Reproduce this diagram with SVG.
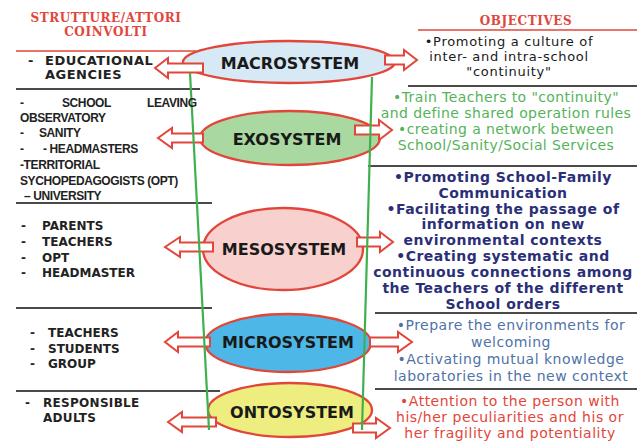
<svg xmlns="http://www.w3.org/2000/svg" width="637" height="444" viewBox="0 0 637 444">
<style>
.ell{stroke:#e2463b;stroke-width:2.3}
.lbl{font-family:"DejaVu Sans",Verdana,sans-serif;font-weight:bold;font-size:16px;fill:#1a1a1a;text-anchor:middle}
.arr{fill:#fff;stroke:#e2463b;stroke-width:2;stroke-linejoin:miter}
.gl{stroke:#3fb04f;stroke-width:2.2;fill:none}
.hd{stroke:#4a4a4a;stroke-width:2}
.hr{stroke:#e2463b;stroke-width:1.5}
.head{font-family:"DejaVu Serif","Liberation Serif",serif;font-weight:bold;font-size:12px;letter-spacing:0.6px;fill:#e2463b;text-anchor:middle}
.lt{font-family:"DejaVu Sans",Verdana,sans-serif;font-weight:bold;font-size:12px;fill:#222}
.ln{font-family:"Liberation Sans",Arial,sans-serif;font-weight:bold;font-size:12px;fill:#222;letter-spacing:-0.4px}
.rt{font-family:"DejaVu Sans",Verdana,sans-serif;font-size:14px;text-anchor:middle}
.rb{font-family:"DejaVu Sans",Verdana,sans-serif;font-weight:bold;font-size:14px;letter-spacing:0.5px;text-anchor:middle;fill:#2b2f78}
</style>
<rect width="637" height="444" fill="#fff"/>

<!-- headers and separators -->
<g id="headers">
<text class="head" x="106" y="22">STRUTTURE/ATTORI</text>
<text class="head" x="106" y="36">COINVOLTI</text>
<text class="head" x="526" y="25">OBJECTIVES</text>
<line class="hr" x1="16" y1="51" x2="196" y2="51"/>
<line class="hr" x1="418" y1="30" x2="637" y2="30"/>
<line class="hd" x1="16" y1="89" x2="200" y2="89"/>
<line class="hd" x1="16" y1="203" x2="212" y2="203"/>
<line class="hd" x1="16" y1="308" x2="212" y2="308"/>
<line class="hd" x1="16" y1="391" x2="220" y2="391"/>
<line class="hd" x1="408" y1="86" x2="637" y2="86"/>
<line class="hd" x1="368" y1="166" x2="637" y2="166"/>
<line class="hd" x1="375" y1="389" x2="637" y2="389"/>
</g>

<!-- nodes -->
<g id="macrosystem">
<ellipse class="ell" cx="289" cy="62" rx="106" ry="21" fill="#d6e9f4"/>
<text class="lbl" x="290" y="69">MACROSYSTEM</text>
</g>
<g id="exosystem">
<ellipse class="ell" cx="290" cy="138" rx="90" ry="27" fill="#a9d9a0"/>
<text class="lbl" x="287" y="145">EXOSYSTEM</text>
</g>
<g id="mesosystem">
<ellipse class="ell" cx="283" cy="249" rx="80" ry="41" fill="#f8d0ce"/>
<text class="lbl" x="284" y="255">MESOSYSTEM</text>
</g>
<g id="microsystem">
<ellipse class="ell" cx="288" cy="343" rx="83" ry="29" fill="#4db7e7"/>
<text class="lbl" x="288" y="348">MICROSYSTEM</text>
</g>
<g id="ontosystem">
<ellipse class="ell" cx="290" cy="410" rx="82" ry="27" fill="#eeee80"/>
<text class="lbl" x="292" y="418">ONTOSYSTEM</text>
</g>

<!-- connectors -->
<g id="connectors">
<path class="arr" d="M155,68 L168,58 L168,63.5 L203,63.5 L203,72.5 L168,72.5 L168,78 Z"/>
<path class="arr" d="M385,55.5 L404,55.5 L404,50 L417,60 L404,70 L404,64.5 L385,64.5 Z"/>
<path class="arr" d="M158,138 L172,128 L172,133.5 L203,133.5 L203,142.5 L172,142.5 L172,148 Z"/>
<path class="arr" d="M355,125.5 L379,125.5 L379,120 L392,130 L379,140 L379,134.5 L355,134.5 Z"/>
<path class="arr" d="M165,247 L180,237 L180,242.5 L213,242.5 L213,251.5 L180,251.5 L180,257 Z"/>
<path class="arr" d="M357,237.5 L380,237.5 L380,232 L393,242 L380,252 L380,246.5 L357,246.5 Z"/>
<path class="arr" d="M165,342 L178,332 L178,337.5 L210,337.5 L210,346.5 L178,346.5 L178,352 Z"/>
<path class="arr" d="M370,337.5 L398,337.5 L398,332 L412,342 L398,352 L398,346.5 L370,346.5 Z"/>
<path class="arr" d="M168,422 L182,412 L182,417.5 L216,417.5 L216,426.5 L182,426.5 L182,432 Z"/>
<path class="arr" d="M353,423.5 L376,423.5 L376,418 L390,428 L376,438 L376,432.5 L353,432.5 Z"/>
<line class="gl" x1="190" y1="73" x2="209" y2="430"/>
<line class="gl" x1="372" y1="77" x2="362" y2="430"/>
</g>

<!-- left texts -->
<g id="actors-macro">
<text class="lt" x="28" y="65" style="font-size:13px">-</text>
<text class="lt" x="45" y="65" style="font-size:13px;letter-spacing:0.5px">EDUCATIONAL</text>
<text class="lt" x="45" y="79" style="font-size:13px;letter-spacing:0.5px">AGENCIES</text>
</g>
<g id="actors-exo">
<text class="ln" x="20" y="107">-</text>
<text class="ln" x="62" y="107">SCHOOL</text>
<text class="ln" x="147" y="107">LEAVING</text>
<text class="ln" x="20" y="122">OBSERVATORY</text>
<text class="ln" x="20" y="137">-</text>
<text class="ln" x="39" y="137">SANITY</text>
<text class="ln" x="20" y="153">-</text>
<text class="ln" x="43" y="153">- HEADMASTERS</text>
<text class="ln" x="20" y="169">-TERRITORIAL</text>
<text class="ln" x="20" y="185">SYCHOPEDAGOGISTS (OPT)</text>
<text class="ln" x="24" y="200">– UNIVERSITY</text>
</g>
<g id="actors-meso">
<text class="lt" x="21" y="230">-</text><text class="lt" x="42" y="230">PARENTS</text>
<text class="lt" x="21" y="246">-</text><text class="lt" x="42" y="246">TEACHERS</text>
<text class="lt" x="21" y="262">-</text><text class="lt" x="42" y="262">OPT</text>
<text class="lt" x="21" y="277">-</text><text class="lt" x="42" y="277">HEADMASTER</text>
</g>
<g id="actors-micro">
<text class="lt" x="30" y="337">-</text><text class="lt" x="48" y="337">TEACHERS</text>
<text class="lt" x="30" y="353">-</text><text class="lt" x="48" y="353">STUDENTS</text>
<text class="lt" x="30" y="368">-</text><text class="lt" x="48" y="368">GROUP</text>
</g>
<g id="actors-onto">
<text class="lt" x="25" y="407">-</text><text class="lt" x="43" y="407" style="letter-spacing:0.3px">RESPONSIBLE</text>
<text class="lt" x="43" y="422" style="letter-spacing:0.3px">ADULTS</text>
</g>

<!-- right texts -->
<g id="obj-macro" fill="#1a1a1a" style="letter-spacing:0.7px">
<text class="rt" x="509" y="46" style="font-size:13px">•Promoting a culture of</text>
<text class="rt" x="509" y="61" style="font-size:13px">inter- and intra-school</text>
<text class="rt" x="509" y="76" style="font-size:13px">"continuity"</text>
</g>
<g id="obj-exo" fill="#55b35a" style="letter-spacing:0.4px">
<text class="rt" x="506" y="102">•Train Teachers to "continuity"</text>
<text class="rt" x="506" y="118">and define shared operation rules</text>
<text class="rt" x="506" y="134">•creating a network between</text>
<text class="rt" x="506" y="150">School/Sanity/Social Services</text>
</g>
<g id="obj-meso">
<text class="rb" x="503" y="182">•Promoting School-Family</text>
<text class="rb" x="503" y="198">Communication</text>
<text class="rb" x="503" y="214">•Facilitating the passage of</text>
<text class="rb" x="503" y="229">information on new</text>
<text class="rb" x="503" y="245">environmental contexts</text>
<text class="rb" x="503" y="261">•Creating systematic and</text>
<text class="rb" x="503" y="277">continuous connections among</text>
<text class="rb" x="503" y="293">the Teachers of the different</text>
<text class="rb" x="503" y="309">School orders</text>
<line class="hd" x1="375" y1="313" x2="637" y2="313"/>
</g>
<g id="obj-micro" fill="#4f73a8" style="letter-spacing:0.5px">
<text class="rt" x="511" y="330">•Prepare the environments for</text>
<text class="rt" x="511" y="347">welcoming</text>
<text class="rt" x="511" y="364">•Activating mutual knowledge</text>
<text class="rt" x="511" y="381">laboratories in the new context</text>
</g>
<g id="obj-onto" fill="#e2463b" style="letter-spacing:0.5px">
<text class="rt" x="510" y="406">•Attention to the person with</text>
<text class="rt" x="510" y="422">his/her peculiarities and his or</text>
<text class="rt" x="510" y="438">her fragility and potentiality</text>
</g>
</svg>
